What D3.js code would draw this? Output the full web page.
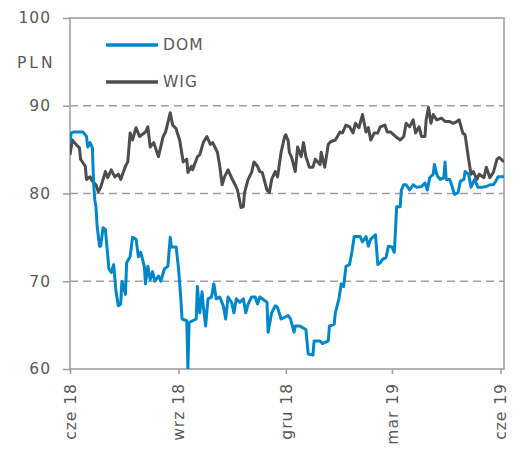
<!DOCTYPE html>
<html>
<head>
<meta charset="utf-8">
<script src="https://cdn.jsdelivr.net/npm/d3@7"></script>
<style>
  body { margin: 0; background: #fff; }
  text { font-family: "DejaVu Sans", Verdana, sans-serif; fill: #595959; }
</style>
</head>
<body>
<svg id="chart" width="523" height="450"></svg>
<script>
// daty i wartości
const domDates = ["2018-06-01","2018-06-02","2018-06-04","2018-06-12","2018-06-15","2018-06-16","2018-06-18","2018-06-20","2018-06-21","2018-06-22","2018-06-23","2018-06-24","2018-06-26","2018-06-27","2018-06-29","2018-07-01","2018-07-02","2018-07-04","2018-07-06","2018-07-08","2018-07-10","2018-07-12","2018-07-14","2018-07-15","2018-07-18","2018-07-19","2018-07-22","2018-07-24","2018-07-27","2018-07-29","2018-07-31","2018-08-03","2018-08-04","2018-08-06","2018-08-08","2018-08-10","2018-08-12","2018-08-15","2018-08-17","2018-08-20","2018-08-23","2018-08-25","2018-08-26","2018-08-30","2018-09-01","2018-09-03","2018-09-04","2018-09-08","2018-09-09","2018-09-10","2018-09-13","2018-09-16","2018-09-17","2018-09-19","2018-09-21","2018-09-22","2018-09-24","2018-09-26","2018-09-29","2018-10-01","2018-10-03","2018-10-06","2018-10-09","2018-10-11","2018-10-13","2018-10-16","2018-10-18","2018-10-20","2018-10-23","2018-10-26","2018-10-28","2018-10-30","2018-11-02","2018-11-05","2018-11-07","2018-11-09","2018-11-11","2018-11-15","2018-11-16","2018-11-19","2018-11-22","2018-11-24","2018-11-27","2018-11-30","2018-12-03","2018-12-05","2018-12-08","2018-12-09","2018-12-13","2018-12-14","2018-12-18","2018-12-20","2018-12-24","2018-12-25","2018-12-30","2019-01-01","2019-01-06","2019-01-07","2019-01-11","2019-01-12","2019-01-15","2019-01-17","2019-01-19","2019-01-21","2019-01-24","2019-01-26","2019-01-28","2019-02-02","2019-02-04","2019-02-07","2019-02-09","2019-02-11","2019-02-15","2019-02-17","2019-02-19","2019-02-21","2019-02-24","2019-02-26","2019-03-01","2019-03-03","2019-03-05","2019-03-08","2019-03-09","2019-03-11","2019-03-13","2019-03-16","2019-03-19","2019-03-22","2019-03-26","2019-03-29","2019-03-31","2019-04-02","2019-04-05","2019-04-06","2019-04-08","2019-04-09","2019-04-11","2019-04-14","2019-04-15","2019-04-16","2019-04-19","2019-04-21","2019-04-23","2019-04-26","2019-04-28","2019-05-01","2019-05-02","2019-05-05","2019-05-07","2019-05-10","2019-05-13","2019-05-16","2019-05-20","2019-05-23","2019-05-26","2019-05-28","2019-05-30","2019-06-04"];
const domValues = [85.8,86.9,87.0,87.0,86.5,85.3,85.8,85.2,81.2,79.3,78.5,76.3,74.0,74.0,76.1,75.9,74.4,71.4,71.0,71.9,68.8,67.2,67.4,70.0,68.5,72.1,72.8,75.0,74.8,72.8,73.3,71.7,69.7,71.7,70.2,71.1,70.0,70.6,70.0,71.4,71.7,75.0,73.9,73.9,71.5,68.0,65.7,65.5,60.0,65.3,65.5,65.7,69.4,66.4,68.8,67.2,64.9,68.0,68.2,69.7,68.0,68.2,67.2,65.7,68.2,67.6,66.4,68.0,67.6,68.0,66.4,67.4,68.2,68.2,67.4,68.2,68.0,67.6,64.2,66.4,67.2,67.0,65.7,65.9,66.1,65.7,64.2,64.9,64.9,64.8,64.5,61.7,61.6,63.2,63.2,62.9,63.2,64.9,65.1,66.4,68.0,69.7,69.4,71.7,71.9,73.3,75.1,75.1,74.5,75.1,74.0,74.8,75.3,71.9,72.1,72.5,72.7,74.0,73.9,73.3,78.5,78.5,80.4,81.0,81.0,80.4,81.0,80.7,80.8,81.2,80.4,81.8,82.2,83.3,82.2,81.9,81.6,81.8,83.6,81.6,81.6,80.8,79.9,80.1,81.4,81.6,82.5,82.2,80.7,81.6,80.7,80.7,80.8,81.0,81.0,81.4,81.9,81.9];

const wigDates = ["2018-06-01","2018-06-03","2018-06-06","2018-06-09","2018-06-10","2018-06-14","2018-06-15","2018-06-18","2018-06-20","2018-06-23","2018-06-25","2018-06-27","2018-07-01","2018-07-03","2018-07-06","2018-07-09","2018-07-12","2018-07-14","2018-07-18","2018-07-20","2018-07-22","2018-07-24","2018-07-27","2018-07-30","2018-08-04","2018-08-06","2018-08-08","2018-08-11","2018-08-15","2018-08-19","2018-08-21","2018-08-25","2018-08-27","2018-08-30","2018-08-31","2018-09-02","2018-09-05","2018-09-08","2018-09-09","2018-09-12","2018-09-13","2018-09-17","2018-09-19","2018-09-22","2018-09-25","2018-09-28","2018-09-30","2018-10-04","2018-10-06","2018-10-08","2018-10-10","2018-10-13","2018-10-16","2018-10-19","2018-10-21","2018-10-24","2018-10-26","2018-10-27","2018-10-30","2018-11-02","2018-11-04","2018-11-07","2018-11-09","2018-11-11","2018-11-15","2018-11-17","2018-11-19","2018-11-22","2018-11-24","2018-11-27","2018-11-30","2018-12-01","2018-12-03","2018-12-04","2018-12-06","2018-12-09","2018-12-11","2018-12-14","2018-12-16","2018-12-18","2018-12-21","2018-12-24","2018-12-26","2018-12-30","2018-12-31","2019-01-03","2019-01-06","2019-01-08","2019-01-12","2019-01-16","2019-01-18","2019-01-21","2019-01-24","2019-01-27","2019-01-29","2019-02-01","2019-02-04","2019-02-07","2019-02-09","2019-02-11","2019-02-14","2019-02-17","2019-02-19","2019-02-23","2019-02-25","2019-02-28","2019-03-04","2019-03-08","2019-03-11","2019-03-13","2019-03-16","2019-03-19","2019-03-21","2019-03-24","2019-03-26","2019-03-29","2019-03-30","2019-04-01","2019-04-03","2019-04-05","2019-04-08","2019-04-12","2019-04-15","2019-04-19","2019-04-22","2019-04-25","2019-04-27","2019-04-30","2019-05-02","2019-05-05","2019-05-07","2019-05-09","2019-05-12","2019-05-14","2019-05-18","2019-05-20","2019-05-23","2019-05-26","2019-05-29","2019-05-31","2019-06-04"];
const wigValues = [84.4,86.1,85.6,85.2,83.9,83.1,81.6,81.9,81.4,81.0,80.2,80.7,82.5,81.8,82.7,81.9,82.2,81.6,83.1,83.6,86.9,86.1,87.5,86.5,87.0,87.6,85.3,85.8,84.2,86.5,87.0,89.2,87.8,87.4,86.9,86.1,83.6,83.9,82.4,83.1,82.7,84.2,84.4,85.8,86.5,85.6,85.8,84.7,83.1,81.0,81.9,82.7,81.8,81.0,80.4,78.4,78.5,80.1,81.6,82.4,83.6,83.1,82.5,82.4,80.4,80.1,81.6,82.5,81.9,84.7,86.5,86.7,86.0,84.7,84.1,82.5,85.3,84.2,85.8,84.2,83.0,83.0,83.9,83.3,84.7,83.0,85.6,85.9,86.1,87.0,86.9,87.8,87.6,86.9,88.0,87.5,89.0,87.0,87.5,86.1,86.9,86.9,87.6,87.8,87.0,87.0,86.5,86.1,86.5,88.0,87.6,88.4,86.9,87.6,86.5,86.5,88.4,89.8,88.0,89.0,88.4,88.6,88.2,88.2,88.0,88.2,88.4,86.9,86.7,83.9,82.2,82.5,81.6,82.2,81.8,83.0,81.8,82.4,83.9,84.1,83.6];

const yTicks = [60, 70, 80, 90, 100];
const xTickDates = ["2018-06-01","2018-09-01","2018-12-01","2019-03-01","2019-06-01"];
const xTickLabels = ["cze 18","wrz 18","gru 18","mar 19","cze 19"];
const seriesNames = ["DOM", "WIG"];
const seriesColors = ["#0087c9", "#4d4d4f"];

const parse = d3.timeParse("%Y-%m-%d");
const svg = d3.select("#chart");
const margin = { left: 70, top: 18, right: 19, bottom: 81 };
const width = 523 - margin.left - margin.right;
const height = 450 - margin.top - margin.bottom;

const x = d3.scaleTime()
    .domain([parse("2018-06-01"), parse("2019-06-04")])
    .range([0, width]);
const y = d3.scaleLinear().domain([60, 100]).range([height, 0]);

const g = svg.append("g").attr("transform", `translate(${margin.left},${margin.top})`);

svg.append("defs").append("clipPath").attr("id", "clip")
    .append("rect").attr("x", 0).attr("y", 0).attr("width", width).attr("height", height);

// linie siatki
g.selectAll(".grid")
    .data(yTicks.filter(d => d > 60 && d < 100))
    .enter().append("line")
    .attr("x1", 0).attr("x2", width)
    .attr("y1", d => y(d)).attr("y2", d => y(d))
    .style("stroke", "#a0a0a0")
    .style("stroke-width", 1.6)
    .style("stroke-dasharray", "8,5");

// oś Y
const yAxis = g.append("g")
    .call(d3.axisLeft(y).tickValues(yTicks).tickSize(7).tickPadding(12));
yAxis.select(".domain").remove();
yAxis.selectAll("line").style("stroke", "#a0a0a0").style("stroke-width", 1.6);
yAxis.selectAll("text")
    .style("font-size", "15.5px")
    .style("letter-spacing", "1px")
    .style("fill", "#595959");

// oś X
const xAxis = g.append("g")
    .attr("transform", `translate(0,${height})`)
    .call(d3.axisBottom(x)
        .tickValues(xTickDates.map(parse))
        .tickFormat((d, i) => xTickLabels[i])
        .tickSize(5));
xAxis.select(".domain").remove();
xAxis.selectAll("line").style("stroke", "#a0a0a0").style("stroke-width", 1.6);
xAxis.selectAll("text")
    .attr("transform", "rotate(-90)")
    .attr("x", -14)
    .attr("y", 0)
    .attr("dy", "0.35em")
    .style("text-anchor", "end")
    .style("font-size", "15.5px")
    .style("letter-spacing", "1px")
    .style("fill", "#595959");

// ramka wykresu
g.append("rect")
    .attr("width", width).attr("height", height)
    .style("fill", "none")
    .style("stroke", "#a0a0a0")
    .style("stroke-width", 1.6);

// serie
const line = d3.line()
    .x(d => x(d.date))
    .y(d => y(d.value));

const series = [
    { name: seriesNames[0], color: seriesColors[0], data: domDates.map((d, i) => ({ date: parse(d), value: domValues[i] })) },
    { name: seriesNames[1], color: seriesColors[1], data: wigDates.map((d, i) => ({ date: parse(d), value: wigValues[i] })) }
];

// WIG pod spodem, DOM na wierzchu
g.append("g").attr("clip-path", "url(#clip)")
    .selectAll(".series")
    .data([series[1], series[0]])
    .enter().append("path")
    .attr("class", "series")
    .attr("d", d => line(d.data))
    .style("fill", "none")
    .style("stroke", d => d.color)
    .style("stroke-width", 3)
    .style("stroke-linejoin", "round");

// etykieta jednostki
svg.append("text")
    .attr("x", 17).attr("y", 63)
    .attr("dy", "0.35em")
    .style("font-size", "15.5px")
    .style("letter-spacing", "3px")
    .text("PLN");

// legenda
const legend = svg.selectAll(".legend")
    .data(series)
    .enter().append("g")
    .attr("class", "legend")
    .attr("transform", (d, i) => `translate(106,${45 + i * 37})`);
legend.append("line")
    .attr("x1", 0).attr("x2", 52)
    .style("stroke", d => d.color)
    .style("stroke-width", 3.5);
legend.append("text")
    .attr("x", 57).attr("dy", "0.35em")
    .style("font-size", "15.5px")
    .style("letter-spacing", "1px")
    .text(d => d.name);
</script>
</body>
</html>
